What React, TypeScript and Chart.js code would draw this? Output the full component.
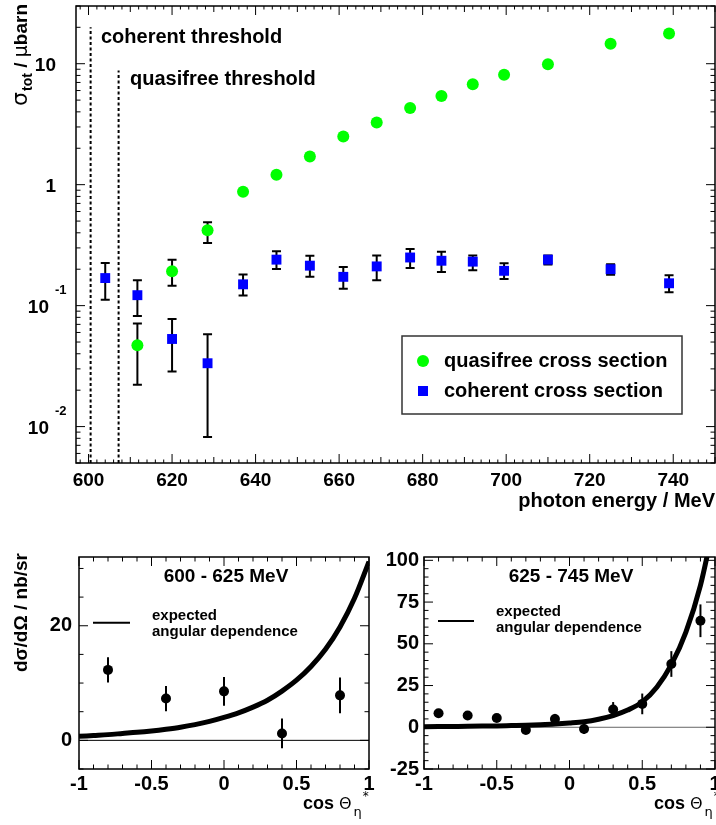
import React, { useEffect, useRef } from "react";
import { Chart, registerables } from "chart.js";
Chart.register(...registerables);

const FONT = '"Liberation Sans", Arial, Helvetica, sans-serif';
const SYM = '"DejaVu Sans", "Liberation Sans", sans-serif';

// ---------- top panel: total cross sections ----------
const qfEnergy = [611.7, 620, 628.5, 637, 645, 653, 661, 669, 677, 684.5, 692, 699.5, 710, 725, 739];
const qfSigma = [0.047, 0.192, 0.42, 0.875, 1.21, 1.71, 2.5, 3.27, 4.3, 5.4, 6.75, 8.1, 9.9, 14.6, 17.8];
const qfLow = [0.0222, 0.146, 0.33, null, null, null, null, null, null, null, null, null, null, null, null];
const qfHigh = [0.071, 0.24, 0.49, null, null, null, null, null, null, null, null, null, null, null, null];

const cohEnergy = [604, 611.7, 620, 628.5, 637, 645, 653, 661, 669, 677, 684.5, 692, 699.5, 710, 725, 739];
const cohSigma = [0.169, 0.122, 0.053, 0.0334, 0.15, 0.24, 0.214, 0.173, 0.211, 0.25, 0.235, 0.231, 0.194, 0.24, 0.2, 0.153];
const cohLow = [0.112, 0.082, 0.0285, 0.0082, 0.121, 0.201, 0.173, 0.138, 0.162, 0.205, 0.19, 0.196, 0.166, 0.219, 0.18, 0.129];
const cohHigh = [0.225, 0.162, 0.0776, 0.058, 0.181, 0.281, 0.259, 0.209, 0.26, 0.294, 0.279, 0.26, 0.224, 0.26, 0.22, 0.178];

const coherentThresholdE = 600.5;
const coherentThresholdTop = 20;
const quasifreeThresholdE = 607.2;
const quasifreeThresholdTop = 8.8;

const topXTicks = [600, 620, 640, 660, 680, 700, 720, 740];
const topYDecades = [0.01, 0.1, 1, 10];

// ---------- bottom panels: angular distributions ----------
const cosLeft = [-0.8, -0.4, 0, 0.4, 0.8];
const dsLeft = [12.3, 7.3, 8.55, 1.2, 7.85];
const dsLeftErr = [2.2, 2.2, 2.5, 2.6, 3.1];

const curveCos = [-1, -0.9, -0.8, -0.7, -0.6, -0.5, -0.4, -0.3, -0.2, -0.1, 0, 0.1, 0.2, 0.3, 0.4, 0.5, 0.6, 0.7, 0.8, 0.9, 1];
const curveLeft = [0.7, 0.85, 1.0, 1.2, 1.4, 1.65, 1.95, 2.3, 2.75, 3.3, 4.0, 4.8, 5.8, 7.0, 8.6, 10.5, 12.9, 15.9, 19.8, 24.8, 31.2];

const cosRight = [-0.9, -0.7, -0.5, -0.3, -0.1, 0.1, 0.3, 0.5, 0.7, 0.9];
const dsRight = [8.4, 7.0, 5.6, -1.6, 5.0, -1.0, 10.6, 14.0, 37.9, 63.8];
const dsRightErr = [2, 2, 2, 2, 3, 3, 4.5, 6.2, 7.7, 9.8];
const curveRight = [0.3, 0.4, 0.5, 0.6, 0.7, 0.8, 1.0, 1.2, 1.5, 1.9, 2.5, 3.3, 4.8, 7.0, 10.3, 15.2, 24, 37.5, 57, 85, 125];

const bottomXTicks = [-1, -0.5, 0, 0.5, 1];
const leftYTicks = [0, 20];
const rightYTicks = [-25, 0, 25, 50, 75, 100];

// ---------- helpers ----------
const pts = (xs: number[], ys: number[]) => xs.map((x, i) => ({ x, y: ys[i] }));

function fixedScale(size: number, vertical: boolean) {
  return (s: any) => {
    if (vertical) s.width = size;
    else s.height = size;
    s.paddingLeft = 0;
    s.paddingRight = 0;
    s.paddingTop = 0;
    s.paddingBottom = 0;
  };
}

function setTicks(vals: number[]) {
  return (s: any) => {
    s.ticks = vals.map((v) => ({ value: v }));
  };
}

function drawFrame(chart: any, xMarks: [number, number][], yMarks: [number, number][]) {
  const { ctx, chartArea: a } = chart;
  const X = chart.scales.x;
  const Y = chart.scales.y;
  ctx.save();
  ctx.strokeStyle = "#000";
  ctx.lineWidth = 1;
  ctx.beginPath();
  for (const [v, len] of xMarks) {
    const p = X.getPixelForValue(v);
    if (p < a.left - 0.5 || p > a.right + 0.5) continue;
    ctx.moveTo(p, a.bottom);
    ctx.lineTo(p, a.bottom - len);
    ctx.moveTo(p, a.top);
    ctx.lineTo(p, a.top + len);
  }
  for (const [v, len] of yMarks) {
    const p = Y.getPixelForValue(v);
    if (p < a.top - 0.5 || p > a.bottom + 0.5) continue;
    ctx.moveTo(a.left, p);
    ctx.lineTo(a.left + len, p);
    ctx.moveTo(a.right, p);
    ctx.lineTo(a.right - len, p);
  }
  ctx.stroke();
  ctx.lineWidth = 1.5;
  ctx.strokeRect(a.left, a.top, a.right - a.left, a.bottom - a.top);
  ctx.restore();
}

function drawErrors(chart: any, xs: number[], lo: (number | null)[], hi: (number | null)[], cap: number) {
  const { ctx, chartArea: a } = chart;
  const X = chart.scales.x;
  const Y = chart.scales.y;
  ctx.save();
  ctx.beginPath();
  ctx.rect(a.left, a.top, a.right - a.left, a.bottom - a.top);
  ctx.clip();
  ctx.strokeStyle = "#000";
  ctx.lineWidth = 2;
  xs.forEach((x, i) => {
    const l = lo[i];
    const h = hi[i];
    if (l == null || h == null) return;
    const px = X.getPixelForValue(x);
    const y1 = Y.getPixelForValue(l);
    const y2 = Y.getPixelForValue(h);
    ctx.beginPath();
    ctx.moveTo(px, y1);
    ctx.lineTo(px, y2);
    if (cap > 0) {
      ctx.moveTo(px - cap, y1);
      ctx.lineTo(px + cap, y1);
      ctx.moveTo(px - cap, y2);
      ctx.lineTo(px + cap, y2);
    }
    ctx.stroke();
  });
  ctx.restore();
}

type Part = { t: string; font: string; dy?: number; dx?: number };
function drawRich(ctx: any, parts: Part[], x: number, y: number, rotate: boolean, align: "left" | "right") {
  ctx.save();
  ctx.translate(x, y);
  if (rotate) ctx.rotate(-Math.PI / 2);
  ctx.textBaseline = "alphabetic";
  ctx.textAlign = "left";
  ctx.fillStyle = "#000";
  let total = 0;
  const ws = parts.map((p) => {
    ctx.font = p.font;
    const w = ctx.measureText(p.t).width + (p.dx || 0);
    total += w;
    return w;
  });
  let cx = align === "right" ? -total : 0;
  parts.forEach((p, i) => {
    ctx.font = p.font;
    ctx.fillText(p.t, cx + (p.dx || 0), p.dy || 0);
    cx += ws[i];
  });
  ctx.restore();
}

function text(ctx: any, t: string, x: number, y: number, font: string, align: string = "left") {
  ctx.save();
  ctx.font = font;
  ctx.textAlign = align;
  ctx.textBaseline = "alphabetic";
  ctx.fillStyle = "#000";
  ctx.fillText(t, x, y);
  ctx.restore();
}

const tickFont = (size: number) => ({ family: FONT, size, weight: "bold" as const });

function baseScale(min: number, max: number, ticks: number[], size: number, vertical: boolean, fontSize: number, padding: number) {
  return {
    type: "linear" as const,
    min,
    max,
    afterBuildTicks: setTicks(ticks),
    afterFit: fixedScale(size, vertical),
    grid: { display: false, drawTicks: false },
    border: { display: false },
    ticks: {
      font: tickFont(fontSize),
      color: "#000",
      padding,
      maxRotation: 0,
      autoSkip: false,
      callback: (v: any) => String(v),
    },
  };
}

const commonOpts = {
  responsive: false,
  animation: false as const,
  events: [] as any[],
  devicePixelRatio: 1,
  plugins: { legend: { display: false }, tooltip: { enabled: false } },
};

// ---------- charts ----------
function buildTop(canvas: HTMLCanvasElement) {
  const xMarks: [number, number][] = [];
  for (let v = 598; v <= 750; v += 2) xMarks.push([v, v % 20 === 0 ? 9 : v % 10 === 0 ? 6 : 3.5]);
  const yMarks: [number, number][] = [];
  for (let d = -3; d <= 1; d++) {
    for (let m = 1; m <= 9; m++) {
      const v = m * Math.pow(10, d);
      if (v >= 0.005 && v <= 30) yMarks.push([v, m === 1 ? 9 : 4.5]);
    }
  }
  const overlay = {
    id: "topOverlay",
    beforeDatasetsDraw(chart: any) {
      drawErrors(chart, qfEnergy, qfLow, qfHigh, 4.5);
      drawErrors(chart, cohEnergy, cohLow, cohHigh, 4.5);
    },
    afterDraw(chart: any) {
      const ctx = chart.ctx;
      const Y = chart.scales.y;
      drawFrame(chart, xMarks, yMarks);
      // y tick labels (powers of ten)
      for (const d of topYDecades) {
        const py = Y.getPixelForValue(d);
        if (d >= 1) {
          text(ctx, String(d), 56, py + 7, `bold 19px ${FONT}`, "right");
        } else {
          const e = Math.round(Math.log10(d));
          text(ctx, "10", 49, py + 7, `bold 19px ${FONT}`, "right");
          text(ctx, String(e), 55, py - 11.5, `bold 13px ${FONT}`, "left");
        }
      }
      // annotations
      text(ctx, "coherent threshold", 101, 43, `bold 20px ${FONT}`);
      text(ctx, "quasifree threshold", 130, 85, `bold 20px ${FONT}`);
      // legend
      ctx.save();
      ctx.fillStyle = "#fff";
      ctx.fillRect(402, 336, 280, 78);
      ctx.strokeStyle = "#333";
      ctx.lineWidth = 1.5;
      ctx.strokeRect(402, 336, 280, 78);
      ctx.fillStyle = "#00ff00";
      ctx.beginPath();
      ctx.arc(423, 361, 6, 0, Math.PI * 2);
      ctx.fill();
      ctx.fillStyle = "#0000ff";
      ctx.fillRect(418, 386, 10, 10);
      ctx.restore();
      text(ctx, "quasifree cross section", 444, 367, `bold 20px ${FONT}`);
      text(ctx, "coherent cross section", 444, 397, `bold 20px ${FONT}`);
      // axis titles
      text(ctx, "photon energy / MeV", 715, 507, `bold 20px ${FONT}`, "right");
      drawRich(
        ctx,
        [
          { t: "σ", font: `22px ${SYM}` },
          { t: "tot", font: `bold 14px ${FONT}`, dy: 5, dx: 1 },
          { t: " / ", font: `bold 19px ${FONT}` },
          { t: "μ", font: `19px ${SYM}` },
          { t: "barn", font: `bold 19px ${FONT}` },
        ],
        27,
        4,
        true,
        "right"
      );
    },
  };
  return new Chart(canvas, {
    type: "scatter",
    data: {
      datasets: [
        {
          label: "quasifree cross section",
          data: pts(qfEnergy, qfSigma),
          pointStyle: "circle",
          pointRadius: 6,
          backgroundColor: "#00ff00",
          borderWidth: 0,
          showLine: false,
        },
        {
          label: "coherent cross section",
          data: pts(cohEnergy, cohSigma),
          pointStyle: "rect",
          pointRadius: 7,
          backgroundColor: "#0000ff",
          borderWidth: 0,
          showLine: false,
        },
        {
          label: "coherent threshold",
          data: [
            { x: coherentThresholdE, y: 0.005 },
            { x: coherentThresholdE, y: coherentThresholdTop },
          ],
          showLine: true,
          borderColor: "#000",
          borderWidth: 2,
          borderDash: [3, 2.5],
          pointRadius: 0,
        },
        {
          label: "quasifree threshold",
          data: [
            { x: quasifreeThresholdE, y: 0.005 },
            { x: quasifreeThresholdE, y: quasifreeThresholdTop },
          ],
          showLine: true,
          borderColor: "#000",
          borderWidth: 2,
          borderDash: [3, 2.5],
          pointRadius: 0,
        },
      ],
    },
    options: {
      ...commonOpts,
      layout: { padding: { left: 0, top: 6, right: 1, bottom: 0 }, autoPadding: false },
      scales: {
        x: baseScale(597, 750, topXTicks, 57, false, 19, 6),
        y: {
          type: "logarithmic",
          min: 0.005,
          max: 30,
          afterFit: fixedScale(76, true),
          grid: { display: false, drawTicks: false },
          border: { display: false },
          ticks: { display: false },
        },
      },
    } as any,
    plugins: [overlay],
  });
}

function buildBottom(
  canvas: HTMLCanvasElement,
  cfg: {
    cos: number[];
    ds: number[];
    err: number[];
    curve: number[];
    yMin: number;
    yMax: number;
    yTicks: number[];
    yMinorStep: number;
    yWidth: number;
    yPad: number;
    padRight: number;
    title: string;
    titleX: number;
    legendLineX: [number, number];
    legendLineY: number;
    legendTextX: number;
    legendBase: [number, number];
    xTitleX: number;
    zeroColor: string;
    yTitle: boolean;
  }
) {
  const xMarks: [number, number][] = [];
  for (let i = -10; i <= 10; i++) xMarks.push([i / 10, i % 5 === 0 ? 9 : 4.5]);
  const yMarks: [number, number][] = [];
  for (let v = Math.ceil(cfg.yMin / cfg.yMinorStep) * cfg.yMinorStep; v <= cfg.yMax; v += cfg.yMinorStep)
    yMarks.push([v, cfg.yTicks.includes(v) ? 9 : 4.5]);
  const lo = cfg.ds.map((v, i) => v - cfg.err[i]);
  const hi = cfg.ds.map((v, i) => v + cfg.err[i]);
  const overlay = {
    id: "bottomOverlay",
    beforeDatasetsDraw(chart: any) {
      drawErrors(chart, cfg.cos, lo, hi, 0);
    },
    afterDraw(chart: any) {
      const ctx = chart.ctx;
      drawFrame(chart, xMarks, yMarks);
      text(ctx, cfg.title, cfg.titleX, 42, `bold 19px ${FONT}`, "center");
      ctx.save();
      ctx.strokeStyle = "#000";
      ctx.lineWidth = 2;
      ctx.beginPath();
      ctx.moveTo(cfg.legendLineX[0], cfg.legendLineY);
      ctx.lineTo(cfg.legendLineX[1], cfg.legendLineY);
      ctx.stroke();
      ctx.restore();
      text(ctx, "expected", cfg.legendTextX, cfg.legendBase[0], `bold 15px ${FONT}`);
      text(ctx, "angular dependence", cfg.legendTextX, cfg.legendBase[1], `bold 15px ${FONT}`);
      drawRich(
        ctx,
        [
          { t: "cos ", font: `bold 18px ${FONT}` },
          { t: "Θ", font: `16px ${SYM}` },
          { t: "η", font: `13px ${SYM}`, dy: 7, dx: 2 },
          { t: "*", font: `12px ${SYM}`, dy: -9, dx: 1 },
        ],
        cfg.xTitleX,
        269,
        false,
        "left"
      );
      if (cfg.yTitle) {
        drawRich(ctx, [{ t: "dσ/dΩ / nb/sr", font: `bold 19px ${FONT}` }], 27, 13, true, "right");
      }
    },
  };
  return new Chart(canvas, {
    type: "scatter",
    data: {
      datasets: [
        {
          label: "data",
          data: pts(cfg.cos, cfg.ds),
          pointStyle: "circle",
          pointRadius: 5,
          backgroundColor: "#000",
          borderWidth: 0,
          showLine: false,
        },
        {
          label: "expected angular dependence",
          data: pts(curveCos, cfg.curve),
          showLine: true,
          borderColor: "#000",
          borderWidth: 5,
          pointRadius: 0,
          cubicInterpolationMode: "monotone",
        },
        {
          label: "zero",
          data: [
            { x: -1, y: 0 },
            { x: 1, y: 0 },
          ],
          showLine: true,
          borderColor: cfg.zeroColor,
          borderWidth: 1,
          pointRadius: 0,
        },
      ],
    },
    options: {
      ...commonOpts,
      layout: { padding: { left: 0, top: 17, right: cfg.padRight, bottom: 0 }, autoPadding: false },
      scales: {
        x: baseScale(-1, 1, bottomXTicks, 56, false, 20, 3),
        y: baseScale(cfg.yMin, cfg.yMax, cfg.yTicks, cfg.yWidth, true, 20, cfg.yPad),
      },
    } as any,
    plugins: [overlay],
  });
}

export default function App() {
  const topRef = useRef<HTMLCanvasElement>(null);
  const leftRef = useRef<HTMLCanvasElement>(null);
  const rightRef = useRef<HTMLCanvasElement>(null);

  useEffect(() => {
    const c1 = buildTop(topRef.current!);
    const c2 = buildBottom(leftRef.current!, {
      cos: cosLeft,
      ds: dsLeft,
      err: dsLeftErr,
      curve: curveLeft,
      yMin: -5,
      yMax: 32,
      yTicks: leftYTicks,
      yMinorStep: 5,
      yWidth: 79,
      yPad: 7,
      padRight: 31,
      title: "600 - 625 MeV",
      titleX: 226,
      legendLineX: [93, 130],
      legendLineY: 82.7,
      legendTextX: 152,
      legendBase: [80, 96],
      xTitleX: 303,
      zeroColor: "#000",
      yTitle: true,
    });
    const c3 = buildBottom(rightRef.current!, {
      cos: cosRight,
      ds: dsRight,
      err: dsRightErr,
      curve: curveRight,
      yMin: -25,
      yMax: 102,
      yTicks: rightYTicks,
      yMinorStep: 5,
      yWidth: 88,
      yPad: 5,
      padRight: 1,
      title: "625 - 745 MeV",
      titleX: 571 - 336,
      legendLineX: [438 - 336, 474 - 336],
      legendLineY: 81,
      legendTextX: 496 - 336,
      legendBase: [76, 92],
      xTitleX: 654 - 336,
      zeroColor: "#666",
      yTitle: false,
    });
    return () => {
      c1.destroy();
      c2.destroy();
      c3.destroy();
    };
  }, []);

  return (
    <div
      style={{
        position: "fixed",
        left: 0,
        top: 0,
        width: 716,
        height: 825,
        overflow: "hidden",
        background: "#fff",
      }}
    >
      <canvas ref={topRef} width={716} height={520} style={{ position: "absolute", left: 0, top: 0, width: 716, height: 520 }} />
      <canvas ref={leftRef} width={400} height={285} style={{ position: "absolute", left: 0, top: 540, width: 400, height: 285 }} />
      <canvas ref={rightRef} width={380} height={285} style={{ position: "absolute", left: 336, top: 540, width: 380, height: 285 }} />
    </div>
  );
}
